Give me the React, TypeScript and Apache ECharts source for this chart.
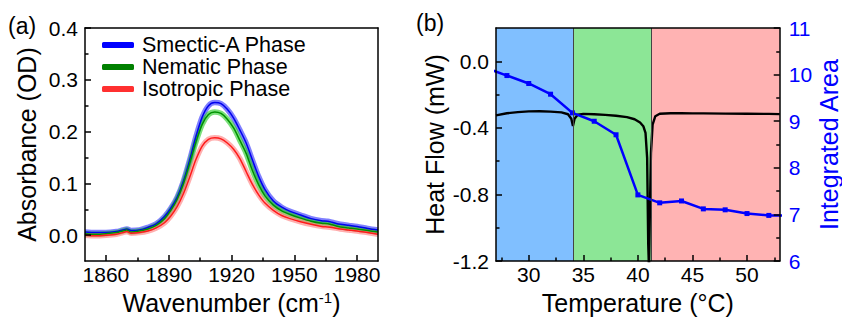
import React, { useEffect, useRef } from "react";
import * as echarts from "echarts";

// ---------- Panel (a): IR absorbance spectra ----------
const wavenumbers = [1850, 1855, 1860, 1865, 1868, 1870, 1872, 1876, 1880, 1884, 1888, 1891, 1894, 1897, 1900, 1903, 1906, 1909, 1912, 1915, 1918, 1921, 1924, 1927, 1930, 1933, 1936, 1940, 1944, 1948, 1953, 1958, 1963, 1966, 1968, 1972, 1976, 1980, 1985, 1990];
const smecticA = [0.006, 0.005, 0.005, 0.007, 0.010, 0.012, 0.009, 0.010, 0.015, 0.022, 0.036, 0.052, 0.073, 0.104, 0.145, 0.190, 0.228, 0.250, 0.256, 0.254, 0.243, 0.226, 0.203, 0.178, 0.145, 0.113, 0.088, 0.066, 0.054, 0.046, 0.039, 0.032, 0.028, 0.027, 0.025, 0.021, 0.019, 0.017, 0.013, 0.010];
const nematic = [0.003, 0.002, 0.003, 0.005, 0.008, 0.010, 0.006, 0.008, 0.012, 0.019, 0.032, 0.048, 0.069, 0.099, 0.138, 0.180, 0.214, 0.233, 0.238, 0.235, 0.224, 0.207, 0.183, 0.158, 0.125, 0.097, 0.076, 0.058, 0.047, 0.040, 0.033, 0.027, 0.023, 0.022, 0.020, 0.016, 0.014, 0.012, 0.009, 0.006];
const isotropic = [0.000, -0.001, 0.000, 0.002, 0.005, 0.007, 0.004, 0.005, 0.008, 0.014, 0.024, 0.037, 0.055, 0.080, 0.112, 0.146, 0.172, 0.185, 0.188, 0.186, 0.178, 0.166, 0.148, 0.123, 0.098, 0.078, 0.062, 0.048, 0.038, 0.032, 0.026, 0.021, 0.017, 0.016, 0.015, 0.012, 0.010, 0.008, 0.005, 0.002];
const phaseNames = ["Smectic-A Phase", "Nematic Phase", "Isotropic Phase"];
const aXMajor = [1860, 1890, 1920, 1950, 1980];
const aXMinor = [1875, 1905, 1935, 1965];
const aYMajor = [0, 0.1, 0.2, 0.3, 0.4];
const aYMinor = [0.05, 0.15, 0.25, 0.35];

// ---------- Panel (b): DSC heat flow + integrated area ----------
const temperature = [27, 28, 29, 30, 31, 32, 33, 33.6, 33.9, 34.05, 34.2, 34.5, 35, 36, 37, 38, 39, 39.7, 40.2, 40.5, 40.7, 40.85, 40.95, 41.02, 41.1, 41.2, 41.35, 41.6, 42, 43, 44, 45, 46, 48, 50, 52, 53];
const heatFlow = [-0.325, -0.312, -0.305, -0.301, -0.300, -0.302, -0.307, -0.318, -0.345, -0.388, -0.345, -0.320, -0.316, -0.318, -0.322, -0.327, -0.335, -0.348, -0.368, -0.390, -0.430, -0.580, -1.100, -1.250, -0.900, -0.550, -0.380, -0.330, -0.315, -0.312, -0.312, -0.313, -0.313, -0.314, -0.315, -0.316, -0.317];
const areaTemps = [26, 28, 30, 32, 34, 36, 38, 40, 42, 44, 46, 48, 50, 52, 54];
const integratedArea = [10.15, 9.98, 9.81, 9.58, 9.18, 9.0, 8.71, 7.42, 7.25, 7.29, 7.12, 7.1, 7.02, 6.98, 6.98];
const phaseBounds = [27, 34.1, 41.2, 53];
const bXMajor = [30, 35, 40, 45, 50];
const bXMinor = [27.5, 32.5, 37.5, 42.5, 47.5, 52.5];
const bYMajor = [-1.2, -0.8, -0.4, 0];
const bYMinor = [-1.0, -0.6, -0.2];

const FONT = "'Liberation Sans', Arial, sans-serif";

export default function App() {
  const ref = useRef<HTMLDivElement>(null);
  useEffect(() => {
    if (!ref.current) return;
    const chart = echarts.init(ref.current, undefined, { renderer: "svg" });
    const axisLine = { show: true, onZero: false, lineStyle: { color: "#000", width: 1.5 } };
    const noLine = { show: false, onZero: false };
    const majorTick = (vals: number[]) => ({ show: true, inside: true, length: 6, customValues: vals, lineStyle: { color: "#000", width: 1.5 } });
    const minorTickAxis = (vals: number[]) => ({ show: true, inside: true, length: 3.5, customValues: vals, lineStyle: { color: "#000", width: 1.5 } });
    const label = (vals: number[], fmt: (v: number) => string, margin: number, color = "#000") => ({ customValues: vals, fontSize: 21, color, margin, fontFamily: FONT, formatter: fmt });
    const noLabel = { show: false };
    const noSplit = { show: false };

    const pdata = (ys: number[]) => wavenumbers.map((w, i) => [w, ys[i]]);
    const bandCols = ["#2a2aff", "#22cc22", "#ff7a7a"];
    const coreCols = ["#0000ee", "#009000", "#ff1a1a"];
    const phaseData = [smecticA, nematic, isotropic];

    const specSeries: any[] = [];
    phaseNames.forEach((name, k) => {
      specSeries.push({
        name, type: "line", xAxisIndex: 0, yAxisIndex: 0, data: pdata(phaseData[k]), smooth: 0.3,
        showSymbol: false, lineStyle: { color: bandCols[k], width: 5.5, opacity: 0.6 }, itemStyle: { color: bandCols[k] }, z: 3,
      });
      specSeries.push({
        name, type: "line", xAxisIndex: 0, yAxisIndex: 0, data: pdata(phaseData[k]), smooth: 0.3,
        showSymbol: false, lineStyle: { color: coreCols[k], width: 1.5 }, itemStyle: { color: coreCols[k] }, z: 4,
      });
    });

    const areaColors = ["#80bfff", "#8ce696", "#ffb3b3"];
    const markAreas = areaColors.map((c, i) => [
      { xAxis: phaseBounds[i], itemStyle: { color: c } },
      { xAxis: phaseBounds[i + 1] },
    ]);

    const option: any = {
      animation: false,
      textStyle: { fontFamily: FONT },
      grid: [
        { left: 85, top: 28, width: 293, height: 237 },
        { left: 496, top: 28, width: 293, height: 238 },
      ],
      legend: {
        orient: "vertical", left: 97, top: 29, itemWidth: 32, itemHeight: 6, itemGap: 0,
        icon: "roundRect", selectedMode: false,
        textStyle: { fontSize: 21.5, color: "#000", lineHeight: 21, fontFamily: FONT, padding: [0, 0, 0, 3] },
        data: phaseNames.map((n, i) => ({ name: n, itemStyle: { color: ["#0000ff", "#008000", "#ff3030"][i] } })),
      },
      graphic: [
        { type: "text", left: 8, top: 14, style: { text: "(a)", fontSize: 23, fill: "#000", fontFamily: FONT } },
        { type: "text", left: 416, top: 11, style: { text: "(b)", fontSize: 23, fill: "#000", fontFamily: FONT } },
      ],
      xAxis: [
        {
          gridIndex: 0, type: "value", min: 1850, max: 1990, position: "bottom", z: 5,
          axisLine, axisTick: majorTick(aXMajor), axisLabel: label(aXMajor, (v) => String(v), 3), splitLine: noSplit,
          name: "{n|Wavenumber (cm}{s|-1}{n|)}", nameLocation: "middle", nameGap: 27,
          nameTextStyle: { fontSize: 25, color: "#000", fontFamily: FONT, rich: { n: { fontSize: 25, color: "#000", fontFamily: FONT }, s: { fontSize: 15, color: "#000", verticalAlign: "top", fontFamily: FONT } } },
        },
        { gridIndex: 0, type: "value", min: 1850, max: 1990, position: "bottom", z: 5, axisLine: noLine, axisTick: minorTickAxis(aXMinor), axisLabel: noLabel, splitLine: noSplit },
        { gridIndex: 0, type: "value", min: 1850, max: 1990, position: "top", z: 5, axisLine, axisTick: { show: false }, axisLabel: noLabel, splitLine: noSplit },
        {
          gridIndex: 1, type: "value", min: 27, max: 53, position: "bottom", z: 5,
          axisLine, axisTick: majorTick(bXMajor), axisLabel: label(bXMajor, (v) => String(v), 3), splitLine: noSplit,
          name: "Temperature (°C)", nameLocation: "middle", nameGap: 27,
          nameTextStyle: { fontSize: 25, color: "#000", fontFamily: FONT },
        },
        { gridIndex: 1, type: "value", min: 27, max: 53, position: "bottom", z: 5, axisLine: noLine, axisTick: minorTickAxis(bXMinor), axisLabel: noLabel, splitLine: noSplit },
        { gridIndex: 1, type: "value", min: 27, max: 53, position: "top", z: 5, axisLine, axisTick: { show: false }, axisLabel: noLabel, splitLine: noSplit },
      ],
      yAxis: [
        {
          gridIndex: 0, type: "value", min: -0.05, max: 0.4, position: "left", z: 5,
          axisLine, axisTick: majorTick(aYMajor), axisLabel: label(aYMajor, (v) => v.toFixed(1), 7), splitLine: noSplit,
          name: "Absorbance (OD)", nameLocation: "middle", nameGap: 46, nameRotate: 90,
          nameTextStyle: { fontSize: 25, color: "#000", fontFamily: FONT },
        },
        { gridIndex: 0, type: "value", min: -0.05, max: 0.4, position: "left", z: 5, axisLine: noLine, axisTick: minorTickAxis(aYMinor), axisLabel: noLabel, splitLine: noSplit },
        { gridIndex: 0, type: "value", min: -0.05, max: 0.4, position: "right", z: 5, axisLine, axisTick: { show: false }, axisLabel: noLabel, splitLine: noSplit },
        {
          gridIndex: 1, type: "value", min: -1.2, max: 0.2, position: "left", z: 5,
          axisLine, axisTick: majorTick(bYMajor), axisLabel: label(bYMajor, (v) => v.toFixed(1), 7), splitLine: noSplit,
          name: "Heat Flow (mW)", nameLocation: "middle", nameGap: 49, nameRotate: 90,
          nameTextStyle: { fontSize: 25, color: "#000", fontFamily: FONT },
        },
        { gridIndex: 1, type: "value", min: -1.2, max: 0.2, position: "left", z: 5, axisLine: noLine, axisTick: minorTickAxis(bYMinor), axisLabel: noLabel, splitLine: noSplit },
        {
          gridIndex: 1, type: "value", min: 6, max: 11, interval: 1, position: "right", z: 5,
          axisLine, axisTick: { show: true, inside: true, length: 6, lineStyle: { color: "#000", width: 1.5 } },
          minorTick: { show: true, splitNumber: 2, length: 3.5, lineStyle: { color: "#000", width: 1.5 } },
          axisLabel: { fontSize: 21, color: "#0000ff", margin: 9, fontFamily: FONT }, splitLine: noSplit,
          name: "Integrated Area", nameLocation: "middle", nameGap: 30, nameRotate: 90,
          nameTextStyle: { fontSize: 25, color: "#0000ff", fontFamily: FONT },
        },
      ],
      series: [
        ...specSeries,
        {
          type: "line", xAxisIndex: 3, yAxisIndex: 3, data: [[60, -2]], showSymbol: false, silent: true, z: 1,
          lineStyle: { opacity: 0 },
          markArea: { silent: true, data: markAreas },
          markLine: {
            silent: true, symbol: "none", label: { show: false },
            lineStyle: { color: "#444", width: 1, type: "solid" },
            data: [{ xAxis: phaseBounds[1] }, { xAxis: phaseBounds[2] }],
          },
        },
        {
          type: "line", xAxisIndex: 3, yAxisIndex: 3, data: temperature.map((t, i) => [t, heatFlow[i]]),
          showSymbol: false, lineStyle: { color: "#000", width: 2.4 }, z: 3,
        },
        {
          type: "line", xAxisIndex: 3, yAxisIndex: 5, data: areaTemps.map((t, i) => [t, integratedArea[i]]),
          symbol: "rect", symbolSize: 5, lineStyle: { color: "#0000ff", width: 2.5 }, itemStyle: { color: "#0000ff" }, z: 4,
        },
      ],
    };
    chart.setOption(option);
    return () => chart.dispose();
  }, []);
  return <div ref={ref} style={{ position: "fixed", left: 0, top: 0, width: 842, height: 320, background: "#fff" }} />;
}
